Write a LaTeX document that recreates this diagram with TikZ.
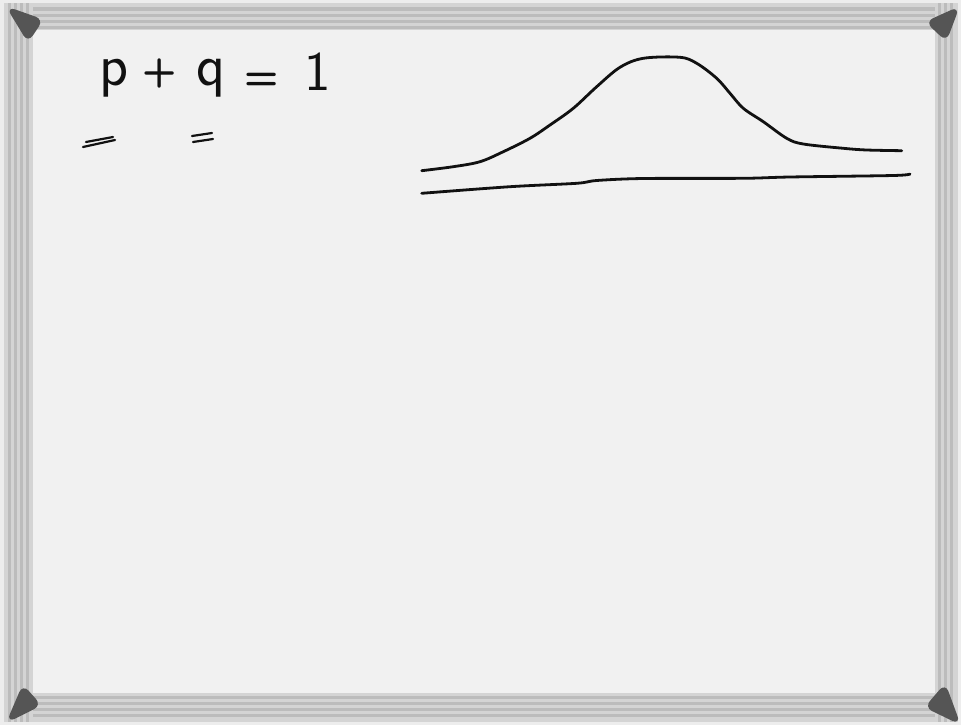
\documentclass[tikz,border=0pt]{standalone}
\usetikzlibrary{calc}
\definecolor{boardbg}{HTML}{F1F1F1}
\definecolor{outerbg}{HTML}{EDEDED}
\definecolor{barA}{HTML}{BCBCBC}
\definecolor{barB}{HTML}{D4D4D4}
\definecolor{capc}{HTML}{555555}
\definecolor{ink}{HTML}{111111}
\tikzset{
  pen/.style={draw=ink, line width=2.8pt, line cap=round, line join=round},
  thinpen/.style={draw=ink, line width=2.2pt, line cap=round},
  hand/.style={text=ink, inner sep=0pt, font=\sffamily\fontsize{60}{60}\selectfont},
  cornercap/.style={fill=capc, draw=capc, line width=2pt, rounded corners=7pt},
}
\begin{document}
\begin{tikzpicture}[x=1pt,y=-1pt]
\useasboundingbox (0,0) rectangle (961,725);
\fill[outerbg] (0,0) rectangle (961,725);
% frame bars (stripes)
\foreach \a/\b/\c in {3/30/barB,7/11/barA,14/17/barA,20/23/barA,26/29/barA}{
  \fill[\c] (4,\a) rectangle (958,\b);
}
\foreach \a/\b/\c in {693/722/barB,696/699/barA,702/705/barA,708/711/barA,714/717/barA}{
  \fill[\c] (4,\a) rectangle (958,\b);
}
\foreach \a/\b/\c in {4/33/barB,8/11/barA,14/17/barA,20/23/barA,26/29/barA}{
  \fill[\c] (\a,3) rectangle (\b,722);
}
\foreach \a/\b/\c in {935/958/barB,938/941/barA,944/947/barA,950/953/barA}{
  \fill[\c] (\a,3) rectangle (\b,722);
}
% board surface
\fill[boardbg] (33,30) rectangle (935,693);
% corner caps
\filldraw[cornercap] (8,8) -- (42,20) -- (28,41) -- cycle;
\filldraw[cornercap] (958,8) -- (946,40) -- (927,22) -- cycle;
\filldraw[cornercap] (8,721) -- (23,686) -- (40,705) -- cycle;
\filldraw[cornercap] (959,723) -- (926,707) -- (945,685) -- cycle;
% formula
\node[hand, anchor=base] (p) at (114,85) {p};
\node[hand, font=\sffamily\bfseries\fontsize{40}{40}\selectfont] (plus) at (160,73) {+};
\node[hand, anchor=base] (q) at (211,85) {q};
\node[hand, font=\sffamily\bfseries\fontsize{40}{40}\selectfont] (eq) at (262,81) {=};
\node[hand, anchor=base, font=\sffamily\fontsize{56}{56}\selectfont] (one) at (318,90) {1};
\draw[thinpen] (83,147) -- (115,140);
\draw[thinpen] (86,142) -- (113,137);
\draw[thinpen] (192,136) -- (212,133);
\draw[thinpen] (193,142) -- (213,139);
% bell curve
\draw[pen] plot[smooth, tension=0.55] coordinates {
 (421.7,170.7) (453.3,166.7) (480,161.7) (503.3,151.7) (530,138.3) (550,125)
 (573.3,108.3) (596.7,86.7) (620,67.3) (643.3,58.3) (680,57.3) (696.7,63.3)
 (716.7,78.3) (730,93.3) (743.3,108.3) (763.3,121.7) (786.7,138.3) (803.3,144)
 (843.3,148.3) (866.7,150) (901.7,150.7)};
% axis line
\coordinate (axL) at (421.7,193.3);
\coordinate (axR) at (910,174);
\draw[pen] plot[smooth, tension=0.5] coordinates {
 (axL) (510,186.7) (576.7,183.3) (596.7,180.5) (643.3,178.5) (743.3,178.3)
 (790,177) (893.3,175.5) (axR)};
\end{tikzpicture}
\end{document}
